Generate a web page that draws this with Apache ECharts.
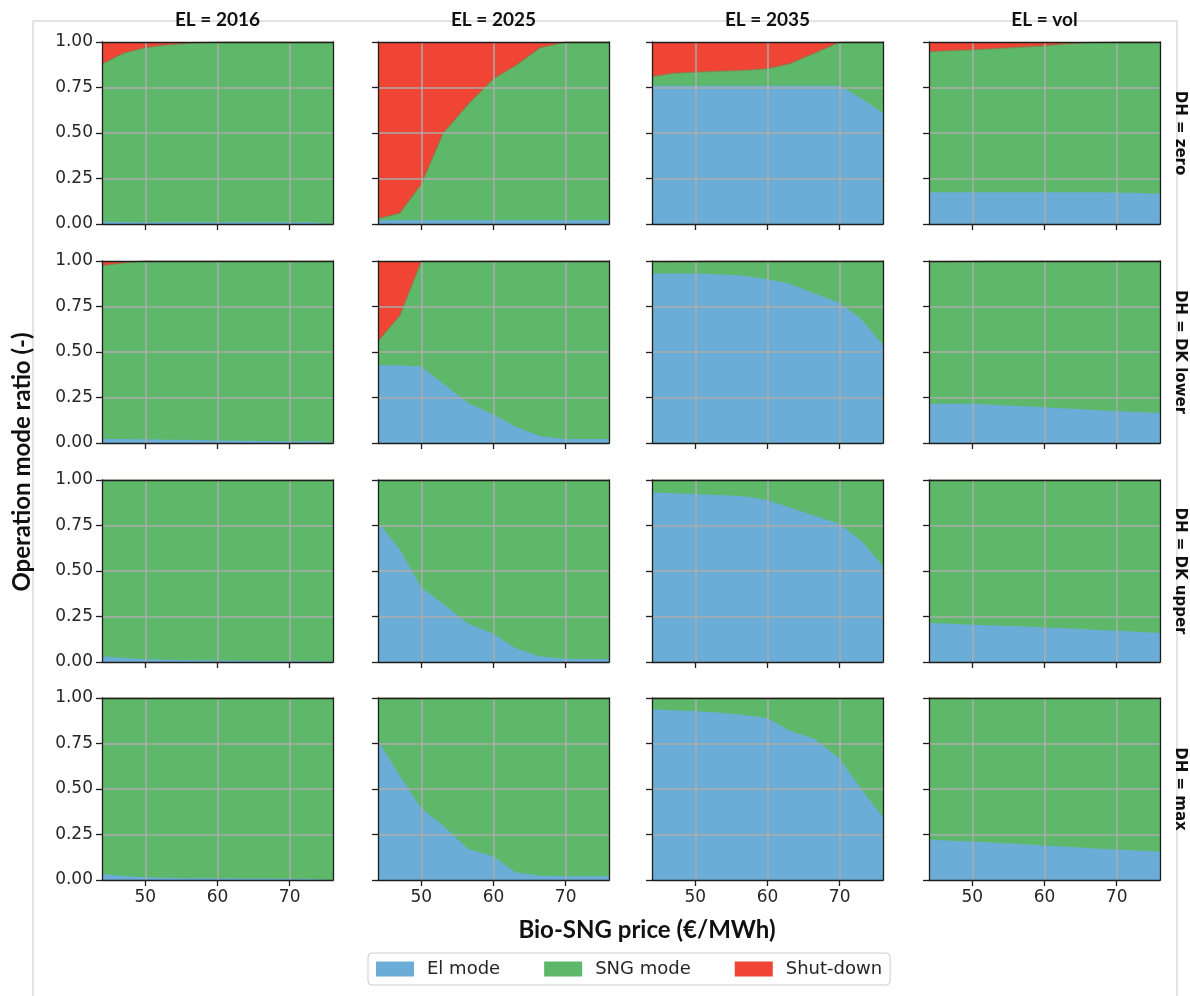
<!DOCTYPE html>
<html>
<head>
<meta charset="utf-8">
<script src="https://cdn.jsdelivr.net/npm/echarts@6/dist/echarts.min.js"></script>
<style>
  html, body { margin: 0; padding: 0; background: #fff; }
  #chart { width: 1190px; height: 996px; }
</style>
</head>
<body>
<div id="chart"></div>
<script>
// ---------------- DATA ----------------
const prices = [44, 47, 50, 53, 56.5, 60, 63, 66.5, 70, 73, 76];
const xTicks = [50, 60, 70];
const yTicks = [0, 0.25, 0.5, 0.75, 1];
const colTitles = ['EL = 2016', 'EL = 2025', 'EL = 2035', 'EL = vol'];
const rowTitles = ['DH = zero', 'DH = DK lower', 'DH = DK upper', 'DH = max'];
const seriesNames = ['El mode', 'SNG mode', 'Shut-down'];

// DH = zero
const zero2016El   = [0.012, 0.011, 0.01, 0.01, 0.01, 0.01, 0.01, 0.01, 0.01, 0.01, 0.01];
const zero2016Sng  = [0.868, 0.929, 0.96, 0.975, 0.985, 0.99, 0.99, 0.99, 0.99, 0.99, 0.99];
const zero2016Shut = [0.12, 0.06, 0.03, 0.015, 0.005, 0, 0, 0, 0, 0, 0];

const zero2025El   = [0.02, 0.02, 0.02, 0.02, 0.02, 0.02, 0.02, 0.02, 0.02, 0.02, 0.02];
const zero2025Sng  = [0.01, 0.04, 0.20, 0.48, 0.64, 0.78, 0.85, 0.95, 0.98, 0.98, 0.98];
const zero2025Shut = [0.97, 0.94, 0.78, 0.50, 0.34, 0.20, 0.13, 0.03, 0, 0, 0];

const zero2035El   = [0.76, 0.76, 0.76, 0.76, 0.76, 0.76, 0.76, 0.76, 0.76, 0.69, 0.61];
const zero2035Sng  = [0.05, 0.07, 0.075, 0.08, 0.085, 0.095, 0.12, 0.18, 0.24, 0.31, 0.39];
const zero2035Shut = [0.19, 0.17, 0.165, 0.16, 0.155, 0.145, 0.12, 0.06, 0, 0, 0];

const zeroVolEl    = [0.175, 0.175, 0.175, 0.175, 0.175, 0.175, 0.175, 0.174, 0.173, 0.17, 0.166];
const zeroVolSng   = [0.773, 0.778, 0.783, 0.789, 0.797, 0.805, 0.815, 0.823, 0.827, 0.83, 0.834];
const zeroVolShut  = [0.052, 0.047, 0.042, 0.036, 0.028, 0.02, 0.01, 0.003, 0, 0, 0];

// DH = DK lower
const lower2016El   = [0.022, 0.022, 0.02, 0.018, 0.016, 0.014, 0.012, 0.011, 0.01, 0.01, 0.01];
const lower2016Sng  = [0.953, 0.968, 0.98, 0.982, 0.984, 0.986, 0.988, 0.989, 0.99, 0.99, 0.99];
const lower2016Shut = [0.025, 0.01, 0, 0, 0, 0, 0, 0, 0, 0, 0];

const lower2025El   = [0.427, 0.427, 0.42, 0.327, 0.22, 0.156, 0.09, 0.037, 0.022, 0.022, 0.022];
const lower2025Sng  = [0.133, 0.273, 0.58, 0.673, 0.78, 0.844, 0.91, 0.963, 0.978, 0.978, 0.978];
const lower2025Shut = [0.44, 0.30, 0, 0, 0, 0, 0, 0, 0, 0, 0];

const lower2035El   = [0.932, 0.932, 0.932, 0.927, 0.921, 0.9, 0.877, 0.822, 0.77, 0.68, 0.54];
const lower2035Sng  = [0.064, 0.065, 0.066, 0.073, 0.079, 0.1, 0.123, 0.178, 0.23, 0.32, 0.46];
const lower2035Shut = [0.004, 0.003, 0.002, 0, 0, 0, 0, 0, 0, 0, 0];

const lowerVolEl    = [0.216, 0.216, 0.216, 0.21, 0.203, 0.196, 0.19, 0.183, 0.175, 0.17, 0.165];
const lowerVolSng   = [0.78, 0.781, 0.782, 0.79, 0.797, 0.804, 0.81, 0.817, 0.825, 0.83, 0.835];
const lowerVolShut  = [0.004, 0.003, 0.002, 0, 0, 0, 0, 0, 0, 0, 0];

// DH = DK upper
const upper2016El   = [0.032, 0.022, 0.015, 0.012, 0.01, 0.008, 0.007, 0.006, 0.006, 0.005, 0.005];
const upper2016Sng  = [0.968, 0.978, 0.985, 0.988, 0.99, 0.992, 0.993, 0.994, 0.994, 0.995, 0.995];
const upper2016Shut = [0, 0, 0, 0, 0, 0, 0, 0, 0, 0, 0];

const upper2025El   = [0.768, 0.62, 0.41, 0.32, 0.21, 0.155, 0.077, 0.03, 0.018, 0.016, 0.015];
const upper2025Sng  = [0.232, 0.38, 0.59, 0.68, 0.79, 0.845, 0.923, 0.97, 0.982, 0.984, 0.985];
const upper2025Shut = [0, 0, 0, 0, 0, 0, 0, 0, 0, 0, 0];

const upper2035El   = [0.932, 0.927, 0.923, 0.918, 0.912, 0.89, 0.85, 0.804, 0.758, 0.666, 0.528];
const upper2035Sng  = [0.068, 0.073, 0.077, 0.082, 0.088, 0.11, 0.15, 0.196, 0.242, 0.334, 0.472];
const upper2035Shut = [0, 0, 0, 0, 0, 0, 0, 0, 0, 0, 0];

const upperVolEl    = [0.215, 0.21, 0.204, 0.2, 0.196, 0.19, 0.185, 0.178, 0.172, 0.166, 0.16];
const upperVolSng   = [0.785, 0.79, 0.796, 0.8, 0.804, 0.81, 0.815, 0.822, 0.828, 0.834, 0.84];
const upperVolShut  = [0, 0, 0, 0, 0, 0, 0, 0, 0, 0, 0];

// DH = max
const max2016El   = [0.033, 0.022, 0.015, 0.012, 0.01, 0.009, 0.008, 0.007, 0.007, 0.006, 0.006];
const max2016Sng  = [0.967, 0.978, 0.985, 0.988, 0.99, 0.991, 0.992, 0.993, 0.993, 0.994, 0.994];
const max2016Shut = [0, 0, 0, 0, 0, 0, 0, 0, 0, 0, 0];

const max2025El   = [0.767, 0.574, 0.394, 0.3, 0.17, 0.13, 0.042, 0.024, 0.02, 0.02, 0.02];
const max2025Sng  = [0.233, 0.426, 0.606, 0.7, 0.83, 0.87, 0.958, 0.976, 0.98, 0.98, 0.98];
const max2025Shut = [0, 0, 0, 0, 0, 0, 0, 0, 0, 0, 0];

const max2035El   = [0.938, 0.933, 0.928, 0.92, 0.908, 0.89, 0.822, 0.776, 0.666, 0.5, 0.345];
const max2035Sng  = [0.062, 0.067, 0.072, 0.08, 0.092, 0.11, 0.178, 0.224, 0.334, 0.5, 0.655];
const max2035Shut = [0, 0, 0, 0, 0, 0, 0, 0, 0, 0, 0];

const maxVolEl    = [0.222, 0.216, 0.211, 0.205, 0.198, 0.189, 0.183, 0.175, 0.167, 0.161, 0.156];
const maxVolSng   = [0.778, 0.784, 0.789, 0.795, 0.802, 0.811, 0.817, 0.825, 0.833, 0.839, 0.844];
const maxVolShut  = [0, 0, 0, 0, 0, 0, 0, 0, 0, 0, 0];

const panels = [
  [[zero2016El, zero2016Sng, zero2016Shut], [zero2025El, zero2025Sng, zero2025Shut], [zero2035El, zero2035Sng, zero2035Shut], [zeroVolEl, zeroVolSng, zeroVolShut]],
  [[lower2016El, lower2016Sng, lower2016Shut], [lower2025El, lower2025Sng, lower2025Shut], [lower2035El, lower2035Sng, lower2035Shut], [lowerVolEl, lowerVolSng, lowerVolShut]],
  [[upper2016El, upper2016Sng, upper2016Shut], [upper2025El, upper2025Sng, upper2025Shut], [upper2035El, upper2035Sng, upper2035Shut], [upperVolEl, upperVolSng, upperVolShut]],
  [[max2016El, max2016Sng, max2016Shut], [max2025El, max2025Sng, max2025Shut], [max2035El, max2035Sng, max2035Shut], [maxVolEl, maxVolSng, maxVolShut]]
];

// ---------------- LAYOUT / STYLE ----------------
const colLeft = [102, 378, 652, 929];
const rowTop = [42, 261, 480, 698];
const panelW = 231;
const panelH = 182;
const colors = ['#6badd6', '#5eb86a', '#f04534'];
const frameColor = '#1e1e1e';
const gridColor = '#adadad';
const tickFont = 'DejaVu Sans';
const titleFont = 'Lato';

const grids = [], xAxes = [], yAxes = [], series = [];
let gi = 0;
for (let r = 0; r < 4; r++) {
  for (let c = 0; c < 4; c++) {
    grids.push({ left: colLeft[c], top: rowTop[r], width: panelW, height: panelH, containLabel: false });
    xAxes.push({
      type: 'value', gridIndex: gi, position: 'bottom', min: 44, max: 76, z: 10,
      axisLine: { show: true, onZero: false, lineStyle: { color: frameColor, width: 1.3 } },
      axisTick: { show: true, customValues: xTicks, length: 6, lineStyle: { color: frameColor, width: 1.3 } },
      axisLabel: { show: r === 3, customValues: xTicks, margin: 9, fontFamily: tickFont, fontSize: 17, color: '#262626' },
      splitLine: { show: false }
    });
    xAxes.push({
      type: 'value', gridIndex: gi, position: 'top', min: 44, max: 76, z: 10,
      axisLine: { show: true, onZero: false, lineStyle: { color: frameColor, width: 1.3 } },
      axisTick: { show: false }, axisLabel: { show: false }, splitLine: { show: false }
    });
    yAxes.push({
      type: 'value', gridIndex: gi, position: 'left', min: 0, max: 1, interval: 0.25, z: 10,
      axisLine: { show: true, onZero: false, lineStyle: { color: frameColor, width: 1.3 } },
      axisTick: { show: true, length: 6, lineStyle: { color: frameColor, width: 1.3 } },
      axisLabel: { show: c === 0, margin: 9, fontFamily: tickFont, fontSize: 17, color: '#262626',
                   formatter: v => v.toFixed(2) },
      splitLine: { show: false }
    });
    yAxes.push({
      type: 'value', gridIndex: gi, position: 'right', min: 0, max: 1, z: 10,
      axisLine: { show: true, onZero: false, lineStyle: { color: frameColor, width: 1.3 } },
      axisTick: { show: false }, axisLabel: { show: false }, splitLine: { show: false }
    });

    // cumulative tops (stackplot): El, El+SNG, El+SNG+Shut
    const vals = panels[r][c];
    const cum = [[], [], []];
    for (let k = 0; k < prices.length; k++) {
      let acc = 0;
      for (let s = 0; s < 3; s++) { acc += vals[s][k]; cum[s].push(+acc.toFixed(4)); }
    }
    // draw top layer first so lower layers overlay it
    for (let s = 2; s >= 0; s--) {
      const ser = {
        name: seriesNames[s],
        type: 'line',
        xAxisIndex: 2 * gi,
        yAxisIndex: 2 * gi,
        symbol: 'none',
        showSymbol: false,
        silent: true,
        animation: false,
        color: colors[s],
        areaStyle: { color: colors[s], opacity: 1, origin: 'start' },
        lineStyle: s === 1
          ? { color: 'rgba(150,110,70,0.55)', width: 1.6 }
          : { width: 0 },
        z: 2 + (2 - s) * 0.01,
        data: prices.map((p, k) => [p, cum[s][k]])
      };
      if (s === 0) {
        ser.markLine = {
          silent: true, symbol: 'none', animation: false,
          label: { show: false },
          lineStyle: { color: gridColor, width: 1.5, type: 'solid' },
          emphasis: { disabled: true },
          data: xTicks.map(v => ({ xAxis: v })).concat(yTicks.slice(1, 4).map(v => ({ yAxis: v })))
        };
      }
      series.push(ser);
    }
    gi++;
  }
}

const graphics = [
  { type: 'polyline', silent: true, z: -1,
    shape: { points: [[33, 996], [33, 21], [1177, 21], [1177, 996]] },
    style: { stroke: '#c8c8c8', lineWidth: 1, fill: null } }
];
colTitles.forEach((t, c) => {
  graphics.push({ type: 'text', x: colLeft[c] + panelW / 2, y: 20, z: 20,
    style: { text: t, fontFamily: titleFont, fontWeight: 'bold', fontSize: 19, fill: '#111',
             align: 'center', verticalAlign: 'middle' } });
});
rowTitles.forEach((t, r) => {
  graphics.push({ type: 'text', x: 1180, y: rowTop[r] + panelH / 2, rotation: -Math.PI / 2, z: 20,
    style: { text: t, fontFamily: 'DejaVu Sans', fontWeight: 'bold', fontSize: 15, fill: '#111',
             align: 'center', verticalAlign: 'middle' } });
});
graphics.push({ type: 'text', x: 647, y: 930, z: 20,
  style: { text: 'Bio-SNG price (€/MWh)', fontFamily: titleFont, fontWeight: 'bold', fontSize: 24, fill: '#111',
           align: 'center', verticalAlign: 'middle' } });
graphics.push({ type: 'text', x: 22, y: 462, rotation: Math.PI / 2, z: 20,
  style: { text: 'Operation mode ratio (-)', fontFamily: titleFont, fontWeight: 'bold', fontSize: 24, fill: '#111',
           align: 'center', verticalAlign: 'middle' } });

const chart = echarts.init(document.getElementById('chart'), null, { renderer: 'canvas' });
chart.setOption({
  backgroundColor: '#ffffff',
  animation: false,
  grid: grids,
  xAxis: xAxes,
  yAxis: yAxes,
  series: series,
  legend: {
    data: seriesNames,
    left: 368, top: 953,
    orient: 'horizontal',
    icon: 'rect',
    itemWidth: 38, itemHeight: 15, itemGap: 44,
    padding: [7, 8],
    borderColor: '#cccccc', borderWidth: 1, borderRadius: 4,
    backgroundColor: '#fff',
    selectedMode: false,
    textStyle: { fontFamily: 'DejaVu Sans', fontSize: 18, color: '#262626', padding: [0, 0, 0, 8] }
  },
  graphic: graphics
});
</script>
</body>
</html>
